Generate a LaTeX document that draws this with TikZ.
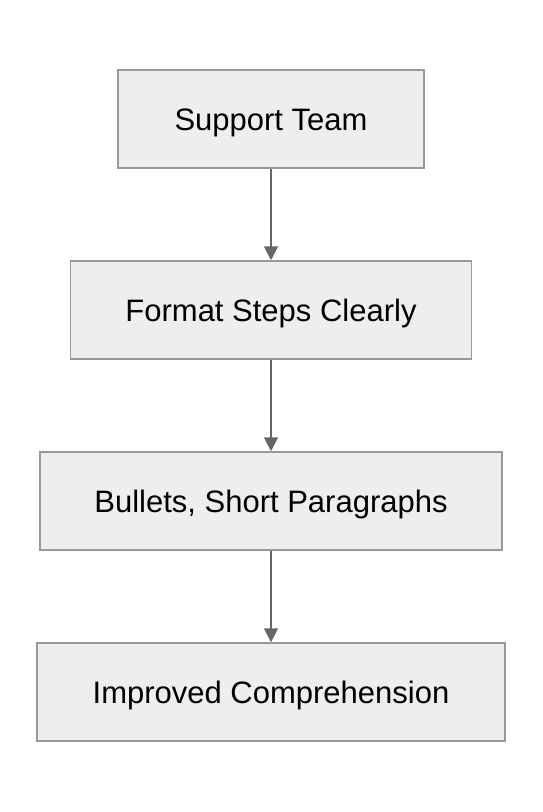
\documentclass[tikz,border=0pt]{standalone}
\usepackage{fontspec}
\setmainfont{Liberation Sans}
\usetikzlibrary{arrows.meta}
\definecolor{boxfill}{HTML}{EEEEEE}
\definecolor{boxline}{HTML}{999999}
\definecolor{arrowline}{HTML}{666666}

\begin{document}
\begin{tikzpicture}[x=1pt, y=-1pt,
        stepbox/.style = {draw = boxline, fill = boxfill, line width = 1.5pt, minimum height = 98pt, inner sep = 0pt, text height = 22pt, text depth = 0pt, font = \fontsize{31}{37}\selectfont},
        flow/.style = {draw = arrowline, line width = 1.8pt, -{Triangle[length = 14pt, width = 14pt]}}]
        \useasboundingbox (0, 0) rectangle (542, 812);
        \node[stepbox, minimum width = 306pt] (team) at (271, 119) {Support Team};
        \node[stepbox, minimum width = 401pt] (format) at (271, 310) {Format Steps Clearly};
        \node[stepbox, minimum width = 462pt] (bullets) at (271, 501) {Bullets, Short Paragraphs};
        \node[stepbox, minimum width = 468pt] (better) at (271, 692) {Improved Comprehension};
        %\draw[dashed] (team.east) -- (better.east);
        \draw[flow] (team) -- (format);
        \draw[flow] (format) -- (bullets);
        \draw[flow] (bullets) -- (better);
    \end{tikzpicture}
\end{document}
